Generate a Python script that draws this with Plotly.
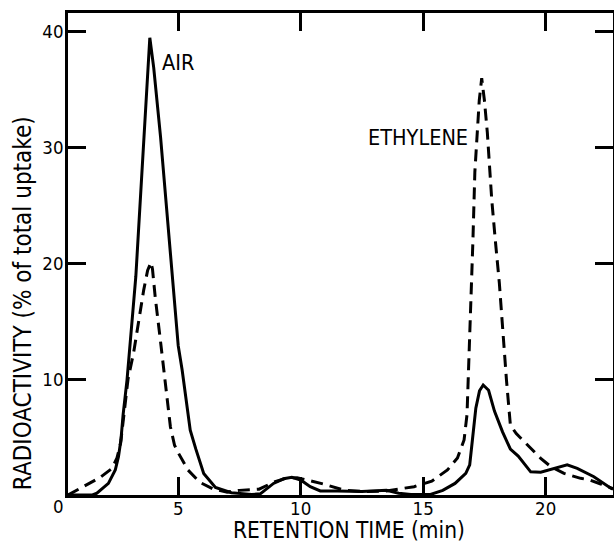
import plotly.graph_objects as go

# Retention time (min) and radioactivity (% of total uptake)
air_time = [0.5, 1.5, 1.68, 2.15, 2.43, 2.56, 2.66, 2.75, 2.91, 3.04, 3.15, 3.27, 3.35, 3.44,
            3.52, 3.60, 3.67, 3.75, 3.84, 4.0, 4.28, 4.52, 4.76, 5.0, 5.16, 5.3, 5.49, 5.72,
            6.04, 6.52, 7.17, 8.0, 8.35, 8.89, 9.3, 9.64, 10.0, 10.39, 10.8, 11.5, 12.5, 13.5,
            14.0, 14.5, 15.3, 15.8, 16.3, 16.74, 16.9, 17.01, 17.15, 17.3, 17.45, 17.67, 17.91,
            18.24, 18.56, 18.88, 19.2, 19.39, 19.8, 20.34, 20.88, 21.29, 21.97, 22.66, 22.75]
air_activity = [0.0, 0.0, 0.15, 1.0, 2.16, 3.3, 4.75, 6.95, 9.95, 12.9, 15.9, 18.9, 21.9, 24.9,
                27.9, 30.9, 33.9, 36.9, 39.5, 36.9, 30.9, 24.9, 18.9, 12.9, 10.8, 8.5, 5.6, 3.96,
                1.86, 0.66, 0.2, 0.05, 0.1, 1.0, 1.4, 1.53, 1.3, 0.72, 0.35, 0.35, 0.3, 0.4,
                0.15, 0.05, 0.05, 0.4, 1.0, 1.87, 2.6, 4.75, 7.5, 9.0, 9.5, 9.05, 7.25,
                5.45, 3.96, 3.36, 2.46, 2.0, 1.96, 2.3, 2.6, 2.3, 1.58, 0.58, 0.5]

eth_time = [0.5, 1.14, 1.8, 2.3, 2.5, 2.65, 2.8, 2.95, 3.18, 3.38, 3.59, 3.75, 3.89, 3.95,
            4.06, 4.27, 4.47, 4.68, 4.85, 5.0, 5.4, 5.88, 6.44, 7.0, 7.5, 8.3, 8.89, 9.4,
            9.85, 10.4, 10.93, 11.75, 12.5, 13.5, 14.63, 15.35, 15.99, 16.4, 16.67, 16.79,
            16.87, 16.95, 17.03, 17.11, 17.21, 17.29, 17.39, 17.5, 17.62, 17.8, 17.95, 18.11,
            18.4, 18.56, 18.8, 19.19, 19.8, 20.21, 20.75, 21.43, 21.8, 22.25, 22.75]
eth_activity = [0.0, 0.72, 1.5, 2.3, 3.2, 4.5, 7.0, 10.0, 12.3, 15.1, 17.7, 19.4, 20.1, 19.5,
                17.1, 13.4, 9.9, 5.9, 4.3, 3.65, 2.15, 1.1, 0.5, 0.25, 0.4, 0.5, 1.1, 1.45,
                1.5, 1.25, 0.95, 0.43, 0.3, 0.35, 0.72, 1.2, 2.16, 3.2, 4.75, 6.95,
                11.4, 16.5, 21.9, 27.9, 31.3, 34.1, 36.0, 34.1, 31.3, 25.5, 21.9, 18.3,
                9.95, 6.05, 5.3, 4.5, 3.17, 2.45, 1.87, 1.44, 1.3, 0.95, 0.55]

x_ticks = [5, 10, 15, 20]
y_ticks = [10, 20, 30, 40]

FONT = "DejaVu Sans Condensed, Liberation Sans Narrow, DejaVu Sans, sans-serif"

fig = go.Figure()
fig.add_trace(go.Scatter(x=air_time, y=air_activity, mode="lines",
                         line=dict(color="black", width=3), name="Air"))
fig.add_trace(go.Scatter(x=eth_time, y=eth_activity, mode="lines",
                         line=dict(color="black", width=3, dash="12px,7px"), name="Ethylene"))

axis_common = dict(showgrid=False, zeroline=False, showline=True, linecolor="black",
                   linewidth=2.5, mirror="ticks", ticks="inside", ticklen=18, tickwidth=2.5,
                   tickcolor="black", tickfont=dict(family=FONT, size=18.5, color="black"))

fig.update_xaxes(range=[0.5, 22.75], tickvals=x_ticks, ticktext=[str(v) for v in x_ticks],
                 ticklabelstandoff=-5, **axis_common)
fig.update_yaxes(range=[0, 41.64], tickvals=y_ticks, ticktext=[str(v) for v in y_ticks],
                 ticklabelstandoff=-2, **axis_common)

annots = [
    dict(text="AIR", x=4.98, y=37.4, xref="x", yref="y", showarrow=False,
         font=dict(family=FONT, size=21.5, color="black")),
    dict(text="ETHYLENE", x=14.79, y=30.9, xref="x", yref="y", showarrow=False,
         font=dict(family=FONT, size=21.5, color="black")),
    dict(text="0", x=-0.0174, y=-0.023, xref="paper", yref="paper", showarrow=False,
         xanchor="center", yanchor="middle", font=dict(family=FONT, size=18.5, color="black")),
    dict(text="RETENTION TIME (min)", x=0.5156, y=-0.0726, xref="paper", yref="paper",
         showarrow=False, xanchor="center", yanchor="middle",
         font=dict(family=FONT, size=22.5, color="black")),
    dict(text="RADIOACTIVITY (% of total uptake)", x=-0.0826, y=0.398, xref="paper",
         yref="paper", showarrow=False, textangle=-90, xanchor="center", yanchor="middle",
         font=dict(family=FONT, size=24, color="black")),
]

fig.update_layout(width=614, height=542, showlegend=False, plot_bgcolor="white",
                  paper_bgcolor="white", annotations=annots,
                  margin=dict(l=68, r=1, t=13, b=47, autoexpand=False))

fig.write_html("out.html", config={"displayModeBar": False},
               post_script="document.body.style.margin='0';document.body.style.padding='0';")
